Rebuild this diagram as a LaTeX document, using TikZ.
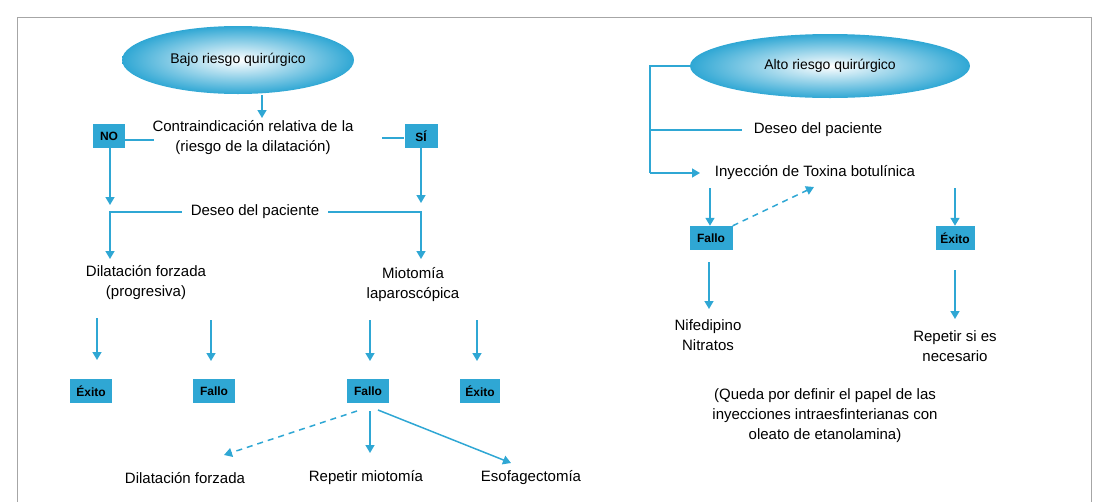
\documentclass[tikz,border=0pt]{standalone}
\usepackage{fontspec}
\setmainfont{Liberation Sans}
\usetikzlibrary{shapes.geometric,arrows.meta}
\definecolor{ablue}{HTML}{2FA7D4}
\tikzset{
  lbl/.style={font=\fontsize{15}{20}\selectfont, align=center, inner sep=1pt},
  tag/.style={fill=ablue, font=\fontsize{12}{14}\selectfont\bfseries, minimum height=24pt, inner sep=2pt},
  conn/.style={draw=ablue, line width=1.5pt},
  arr/.style={conn, -{Triangle[length=8pt,width=9pt]}},
  darr/.style={arr, dashed, dash pattern=on 6pt off 5pt},
  oval/.style={ellipse, inner color=white, outer color=ablue, font=\fontsize{14}{16}\selectfont}
}
\begin{document}
\begin{tikzpicture}[x=1pt,y=-1pt]
\useasboundingbox (0,0) rectangle (1109,501);
\draw[gray!70, line width=0.8pt] (17,505) -- (17,17) -- (1091,17) -- (1091,505);

% ---------- left tree ----------
\node[oval, minimum width=232pt, minimum height=68pt] (bajo) at (238,60) {Bajo riesgo quirúrgico};
\node[lbl] (contra) at (253,138) {Contraindicación relativa de la\\(riesgo de la dilatación)};
\node[tag, minimum width=32pt] (no) at (109,136) {NO};
\node[tag, minimum width=33pt] (si) at (421,136) {SÍ};
\coordinate (cTop) at (262,95);
\draw[arr] (cTop) -- (262,118);
\draw[conn] (no.east |- 0,140) -- (154,140);
\draw[conn] (382,138) -- (si.west |- 0,138);

\node[lbl] (deseo) at (255,212) {Deseo del paciente};
\draw[arr] (no.south -| 110,0) -- (110,205);
\draw[arr] (si.south) -- (421,203);

\node[lbl] (dil) at (146,283) {Dilatación forzada\\(progresiva)};
\node[lbl] (mio) at (413,285) {Miotomía\\laparoscópica};
\draw[arr] ([xshift=-8pt]deseo.west) -- (110,212) -- (110,259);
\draw[arr] ([xshift=8pt]deseo.east) -- (421,212) -- (421,259);

\node[tag, minimum width=42pt] (ex1) at (91,391) {Éxito};
\node[tag, minimum width=42pt] (fa1) at (214,391) {Fallo};
\node[tag, minimum width=42pt] (fa2) at (368,391) {Fallo};
\node[tag, minimum width=40pt] (ex2) at (480,391) {Éxito};
\coordinate (a1) at (97,318);
\coordinate (a2) at (211,320);
\coordinate (a3) at (370,320);
\coordinate (a4) at (477,320);
\draw[arr] (a1) -- (97,360);
\draw[arr] (a2) -- (211,361);
\draw[arr] (a3) -- (370,361);
\draw[arr] (a4) -- (477,361);

\node[lbl] (dil2) at (185,478) {Dilatación forzada};
\node[lbl] (rep) at (366,478) {Repetir miotomía};
\node[lbl] (eso) at (531,478) {Esofagectomía};
\draw[darr] (357,411) -- (224,455);
\draw[arr] (370,411) -- (370,453);
\draw[arr] (378,410) -- (511,463);

% ---------- right tree ----------
\node[oval, minimum width=280pt, minimum height=64pt] (alto) at (830,66) {Alto riesgo quirúrgico};
\node[lbl] (deseo2) at (818,130) {Deseo del paciente};
\node[lbl] (iny) at (815,173) {Inyección de Toxina botulínica};
\draw[conn] (alto.west) -- (650,66) -- (650,173);
\draw[conn] (650,130) -- (742,130);
\draw[arr] (650,173) -- (700,173);

\node[tag, minimum width=43pt] (fa3) at (711,238) {Fallo};
\node[tag, minimum width=39pt] (ex3) at (955,238) {Éxito};
\draw[arr] (710,188) -- (fa3.north -| 710,0);
\draw[arr] (955,188) -- (ex3.north);
\draw[darr] (fa3.north east) -- (814,187);

\node[lbl] (nif) at (708,335) {Nifedipino\\Nitratos};
\node[lbl] (rsi) at (955,346) {Repetir si es\\necesario};
\draw[arr] (709,262) -- (709,309);
\draw[arr] (955,270) -- (955,319);

\node[lbl] (nota) at (825,416) {(Queda por definir el papel de las\\inyecciones intraesfinterianas con\\oleato de etanolamina)};
\end{tikzpicture}
\end{document}
